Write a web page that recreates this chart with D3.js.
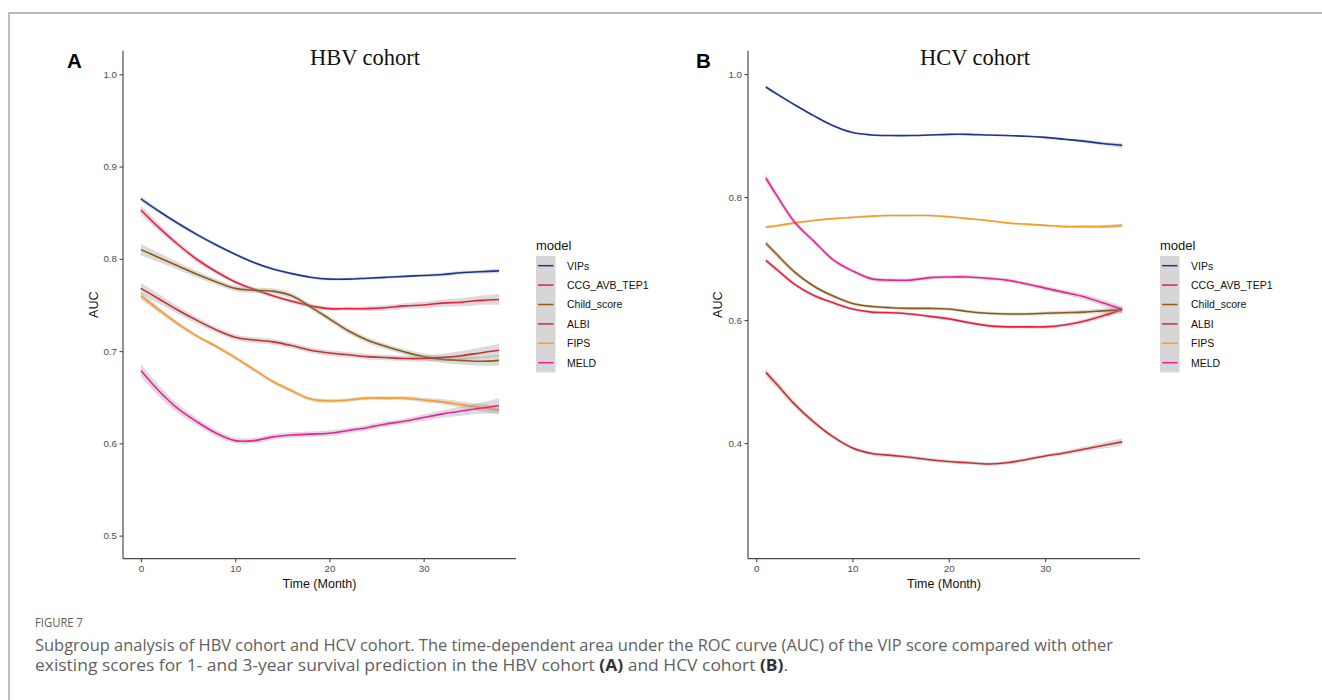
<!DOCTYPE html>
<html>
<head>
<meta charset="utf-8">
<script src="https://cdn.jsdelivr.net/npm/d3@7"></script>
<style>
  html, body { margin: 0; padding: 0; background: #fff; }
  svg { display: block; }
</style>
</head>
<body>
<svg id="chart" width="1322" height="700"></svg>
<script>
// ---------------- DATA ----------------
const models = ["VIPs", "CCG_AVB_TEP1", "Child_score", "ALBI", "FIPS", "MELD"];

// HBV cohort (panel A)
const monthsA = [0, 2, 4, 6, 8, 10, 12, 14, 16, 18, 20, 22, 24, 26, 28, 30, 32, 34, 36, 38];
const hbvVIPs  = [0.865, 0.851, 0.838, 0.826, 0.815, 0.805, 0.796, 0.789, 0.784, 0.780, 0.778, 0.778, 0.779, 0.780, 0.781, 0.782, 0.783, 0.785, 0.786, 0.787];
const hbvCCG   = [0.853, 0.833, 0.815, 0.799, 0.786, 0.775, 0.767, 0.760, 0.754, 0.749, 0.746, 0.746, 0.746, 0.747, 0.749, 0.750, 0.752, 0.753, 0.755, 0.756];
const hbvChild = [0.810, 0.801, 0.792, 0.783, 0.775, 0.768, 0.766, 0.765, 0.760, 0.748, 0.735, 0.722, 0.712, 0.705, 0.699, 0.694, 0.691, 0.690, 0.689, 0.690];
const hbvALBI  = [0.768, 0.756, 0.744, 0.733, 0.723, 0.715, 0.712, 0.710, 0.706, 0.701, 0.698, 0.696, 0.694, 0.693, 0.692, 0.692, 0.693, 0.695, 0.698, 0.701];
const hbvFIPS  = [0.760, 0.744, 0.729, 0.716, 0.705, 0.693, 0.680, 0.667, 0.657, 0.648, 0.646, 0.647, 0.649, 0.649, 0.649, 0.647, 0.645, 0.642, 0.639, 0.636];
const hbvMELD  = [0.679, 0.656, 0.637, 0.623, 0.611, 0.603, 0.603, 0.607, 0.609, 0.610, 0.611, 0.614, 0.617, 0.621, 0.624, 0.628, 0.632, 0.635, 0.638, 0.641];
// ribbon half-widths (confidence band)
const hbvVIPsSe  = [0.003, 0.002, 0.002, 0.002, 0.002, 0.0015, 0.0015, 0.0015, 0.0015, 0.0015, 0.0015, 0.0015, 0.0015, 0.0015, 0.0015, 0.0015, 0.002, 0.002, 0.002, 0.0025];
const hbvCCGSe   = [0.005, 0.004, 0.003, 0.003, 0.0025, 0.002, 0.002, 0.002, 0.002, 0.002, 0.002, 0.002, 0.0025, 0.003, 0.003, 0.0035, 0.004, 0.0045, 0.005, 0.006];
const hbvChildSe = [0.006, 0.005, 0.004, 0.0035, 0.003, 0.003, 0.003, 0.003, 0.003, 0.003, 0.003, 0.003, 0.003, 0.003, 0.003, 0.0035, 0.004, 0.0045, 0.005, 0.006];
const hbvALBISe  = [0.006, 0.005, 0.004, 0.0035, 0.003, 0.003, 0.003, 0.003, 0.003, 0.003, 0.003, 0.003, 0.003, 0.003, 0.003, 0.0035, 0.004, 0.005, 0.006, 0.007];
const hbvFIPSSe  = [0.004, 0.003, 0.0025, 0.002, 0.002, 0.002, 0.002, 0.002, 0.002, 0.002, 0.002, 0.002, 0.002, 0.002, 0.002, 0.0025, 0.003, 0.0035, 0.004, 0.005];
const hbvMELDSe  = [0.007, 0.006, 0.005, 0.004, 0.0035, 0.003, 0.003, 0.003, 0.003, 0.003, 0.003, 0.003, 0.003, 0.003, 0.003, 0.0035, 0.004, 0.005, 0.006, 0.008];

// HCV cohort (panel B)
const monthsB = [1, 2, 4, 6, 8, 10, 12, 14, 16, 18, 20, 22, 24, 26, 28, 30, 32, 34, 36, 38];
const hcvVIPs  = [0.979, 0.969, 0.950, 0.932, 0.916, 0.905, 0.901, 0.900, 0.900, 0.901, 0.902, 0.902, 0.901, 0.900, 0.899, 0.897, 0.894, 0.891, 0.887, 0.884];
const hcvCCG   = [0.697, 0.684, 0.658, 0.640, 0.628, 0.618, 0.613, 0.612, 0.610, 0.606, 0.602, 0.596, 0.591, 0.589, 0.589, 0.589, 0.592, 0.598, 0.607, 0.617];
const hcvChild = [0.725, 0.709, 0.678, 0.655, 0.639, 0.627, 0.622, 0.620, 0.619, 0.619, 0.618, 0.614, 0.611, 0.610, 0.610, 0.611, 0.612, 0.613, 0.615, 0.617];
const hcvALBI  = [0.515, 0.498, 0.463, 0.434, 0.410, 0.392, 0.383, 0.380, 0.377, 0.373, 0.370, 0.368, 0.366, 0.368, 0.373, 0.379, 0.384, 0.390, 0.396, 0.402];
const hcvFIPS  = [0.751, 0.753, 0.758, 0.762, 0.765, 0.767, 0.769, 0.770, 0.770, 0.770, 0.768, 0.765, 0.762, 0.758, 0.756, 0.754, 0.752, 0.752, 0.752, 0.754];
const hcvMELD  = [0.831, 0.806, 0.759, 0.728, 0.698, 0.680, 0.667, 0.665, 0.665, 0.669, 0.670, 0.670, 0.668, 0.665, 0.659, 0.652, 0.645, 0.638, 0.628, 0.617];
const hcvVIPsSe  = [0.003, 0.003, 0.002, 0.002, 0.002, 0.0015, 0.0015, 0.0015, 0.0015, 0.0015, 0.0015, 0.0015, 0.0015, 0.0015, 0.0015, 0.002, 0.002, 0.0025, 0.003, 0.004];
const hcvCCGSe   = [0.004, 0.004, 0.003, 0.003, 0.0025, 0.0025, 0.0025, 0.0025, 0.0025, 0.0025, 0.0025, 0.0025, 0.0025, 0.0025, 0.0025, 0.003, 0.003, 0.0035, 0.004, 0.005];
const hcvChildSe = [0.005, 0.005, 0.004, 0.003, 0.003, 0.0025, 0.0025, 0.0025, 0.0025, 0.0025, 0.0025, 0.0025, 0.0025, 0.0025, 0.0025, 0.003, 0.003, 0.0035, 0.004, 0.005];
const hcvALBISe  = [0.006, 0.006, 0.005, 0.004, 0.0035, 0.003, 0.003, 0.003, 0.003, 0.003, 0.003, 0.003, 0.003, 0.003, 0.003, 0.003, 0.0035, 0.004, 0.005, 0.006];
const hcvFIPSSe  = [0.002, 0.002, 0.002, 0.0015, 0.0015, 0.0015, 0.0015, 0.0015, 0.0015, 0.0015, 0.0015, 0.0015, 0.0015, 0.0015, 0.0015, 0.0015, 0.002, 0.002, 0.0025, 0.003];
const hcvMELDSe  = [0.007, 0.006, 0.005, 0.004, 0.0035, 0.003, 0.003, 0.003, 0.003, 0.003, 0.003, 0.003, 0.003, 0.003, 0.003, 0.0035, 0.004, 0.0045, 0.005, 0.006];

const yTicksA = [0.5, 0.6, 0.7, 0.8, 0.9, 1.0];
const yTicksB = [0.4, 0.6, 0.8, 1.0];
const xTicks = [0, 10, 20, 30];

// ---------------- STYLE ----------------
const color = d3.scaleOrdinal()
  .domain(models)
  .range(["#1f3593", "#f5193d", "#8d5b12", "#cc2d2f", "#ff9a1c", "#f51b9c"]);

const svg = d3.select("#chart");

// outer frame (open on the right / bottom)
svg.append("path")
  .attr("d", "M9,700 L9,13 L1322,13")
  .attr("fill", "none")
  .attr("stroke", "#a3a3a3")
  .attr("stroke-width", 1.4);

function drawPanel(opt) {
  const g = svg.append("g");
  const x = d3.scaleLinear().domain(opt.xDomain).range([opt.left, opt.right]);
  const y = d3.scaleLinear().domain(opt.yDomain).range([opt.bottom, opt.top]);

  const curve = d3.curveCatmullRom.alpha(0.5);

  opt.series.forEach((s, i) => {
    const pts = opt.months.map((m, j) => ({ m: m, v: s.values[j], se: s.se[j] }));
    const area = d3.area()
      .x(d => x(d.m))
      .y0(d => y(d.v - d.se))
      .y1(d => y(d.v + d.se))
      .curve(curve);
    const line = d3.line()
      .x(d => x(d.m))
      .y(d => y(d.v))
      .curve(curve);
    g.append("path")
      .attr("d", area(pts))
      .attr("fill", "#999999")
      .attr("fill-opacity", 0.35);
    g.append("path")
      .attr("d", line(pts))
      .attr("fill", "none")
      .attr("stroke", color(models[i]))
      .attr("stroke-width", 1.6);
  });

  // y axis
  const yAxis = d3.axisLeft(y).tickValues(opt.yTicks).tickSize(3.5).tickPadding(2.5)
    .tickFormat(d3.format(".1f"));
  const ya = g.append("g").attr("transform", `translate(${opt.left},0)`).call(yAxis);
  ya.select(".domain").attr("d", `M0,${opt.top}V${opt.bottom}`);

  // x axis
  const xAxis = d3.axisBottom(x).tickValues(xTicks).tickSize(3.5).tickPadding(2.5);
  const xa = g.append("g").attr("transform", `translate(0,${opt.bottom})`).call(xAxis);
  xa.select(".domain").attr("d", `M${opt.left},0H${opt.right}`);

  [ya, xa].forEach(a => {
    a.select(".domain").attr("stroke", "#4a4a4a").attr("stroke-width", 1.2);
    a.selectAll(".tick line").attr("stroke", "#4a4a4a").attr("stroke-width", 1.1);
    a.selectAll(".tick text")
      .attr("fill", "#4d4d4d")
      .style("font-family", "'Liberation Sans', Arial, sans-serif")
      .style("font-size", "9.8px");
  });

  // axis titles
  g.append("text")
    .attr("x", (opt.left + opt.right) / 2)
    .attr("y", 588)
    .attr("text-anchor", "middle")
    .style("font-family", "'Liberation Sans', Arial, sans-serif")
    .style("font-size", "12.5px")
    .attr("fill", "#111")
    .text("Time (Month)");
  g.append("text")
    .attr("transform", `translate(${opt.auxX},${(opt.top + opt.bottom) / 2}) rotate(-90)`)
    .attr("text-anchor", "middle")
    .style("font-family", "'Liberation Sans', Arial, sans-serif")
    .style("font-size", "12.6px")
    .attr("fill", "#111")
    .text("AUC");

  // panel title
  g.append("text")
    .attr("x", opt.titleX)
    .attr("y", 65)
    .attr("text-anchor", "middle")
    .style("font-family", "'Liberation Serif', 'Times New Roman', serif")
    .style("font-size", "22.5px")
    .attr("fill", "#111")
    .text(opt.title);

  // panel letter
  g.append("text")
    .attr("x", opt.letterX)
    .attr("y", 68)
    .style("font-family", "'Liberation Sans', Arial, sans-serif")
    .style("font-weight", "bold")
    .style("font-size", "20.5px")
    .attr("fill", "#000")
    .text(opt.letter);

  // legend
  const lg = g.append("g").attr("transform", `translate(${opt.legendX},0)`);
  lg.append("text")
    .attr("x", 0).attr("y", 249.5)
    .style("font-family", "'Liberation Sans', Arial, sans-serif")
    .style("font-size", "13px")
    .attr("fill", "#111")
    .text("model");
  const rowH = 19.4, keyTop = 256;
  lg.append("rect")
    .attr("x", 0).attr("y", keyTop)
    .attr("width", 19.5).attr("height", rowH * models.length)
    .attr("fill", "#999999").attr("fill-opacity", 0.4);
  models.forEach((m, i) => {
    const cy = keyTop + rowH * (i + 0.5);
    lg.append("line")
      .attr("x1", 2).attr("x2", 17.5)
      .attr("y1", cy).attr("y2", cy)
      .attr("stroke", color(m)).attr("stroke-width", 1.5);
    lg.append("text")
      .attr("x", 31).attr("y", cy + 3.8)
      .style("font-family", "'Liberation Sans', Arial, sans-serif")
      .style("font-size", "10.5px")
      .attr("fill", "#111")
      .text(m);
  });
}

drawPanel({
  title: "HBV cohort", titleX: 365, letter: "A", letterX: 67,
  left: 123, right: 516, top: 50.7, bottom: 558.7,
  xDomain: [-1.9, 39.8], yDomain: [0.475, 1.0256],
  yTicks: yTicksA, auxX: 98, legendX: 536,
  months: monthsA,
  series: [
    { values: hbvVIPs, se: hbvVIPsSe },
    { values: hbvCCG, se: hbvCCGSe },
    { values: hbvChild, se: hbvChildSe },
    { values: hbvALBI, se: hbvALBISe },
    { values: hbvFIPS, se: hbvFIPSSe },
    { values: hbvMELD, se: hbvMELDSe }
  ]
});

drawPanel({
  title: "HCV cohort", titleX: 975, letter: "B", letterX: 696,
  left: 748, right: 1140, top: 50.7, bottom: 558.7,
  xDomain: [-0.85, 39.85], yDomain: [0.212, 1.038],
  yTicks: yTicksB, auxX: 722, legendX: 1160,
  months: monthsB,
  series: [
    { values: hcvVIPs, se: hcvVIPsSe },
    { values: hcvCCG, se: hcvCCGSe },
    { values: hcvChild, se: hcvChildSe },
    { values: hcvALBI, se: hcvALBISe },
    { values: hcvFIPS, se: hcvFIPSSe },
    { values: hcvMELD, se: hcvMELDSe }
  ]
});

// caption
const cap = svg.append("g")
  .style("font-family", "'Open Sans', 'Noto Sans', sans-serif")
  .attr("fill", "#5f5f5f");
cap.append("text")
  .attr("x", 35).attr("y", 627)
  .style("font-size", "13px")
  .attr("textLength", 48).attr("lengthAdjust", "spacingAndGlyphs")
  .text("FIGURE 7");
cap.append("text")
  .attr("x", 35).attr("y", 650.5)
  .style("font-size", "15.5px")
  .attr("textLength", 1078).attr("lengthAdjust", "spacingAndGlyphs")
  .text("Subgroup analysis of HBV cohort and HCV cohort. The time-dependent area under the ROC curve (AUC) of the VIP score compared with other");
const l2 = cap.append("text")
  .attr("x", 35).attr("y", 670.5)
  .style("font-size", "15.5px")
  .attr("textLength", 753).attr("lengthAdjust", "spacingAndGlyphs");
l2.append("tspan").text("existing scores for 1- and 3-year survival prediction in the HBV cohort ");
l2.append("tspan").style("font-weight", "bold").attr("fill", "#333").text("(A)");
l2.append("tspan").text(" and HCV cohort ");
l2.append("tspan").style("font-weight", "bold").attr("fill", "#333").text("(B)");
l2.append("tspan").text(".");
</script>
</body>
</html>
